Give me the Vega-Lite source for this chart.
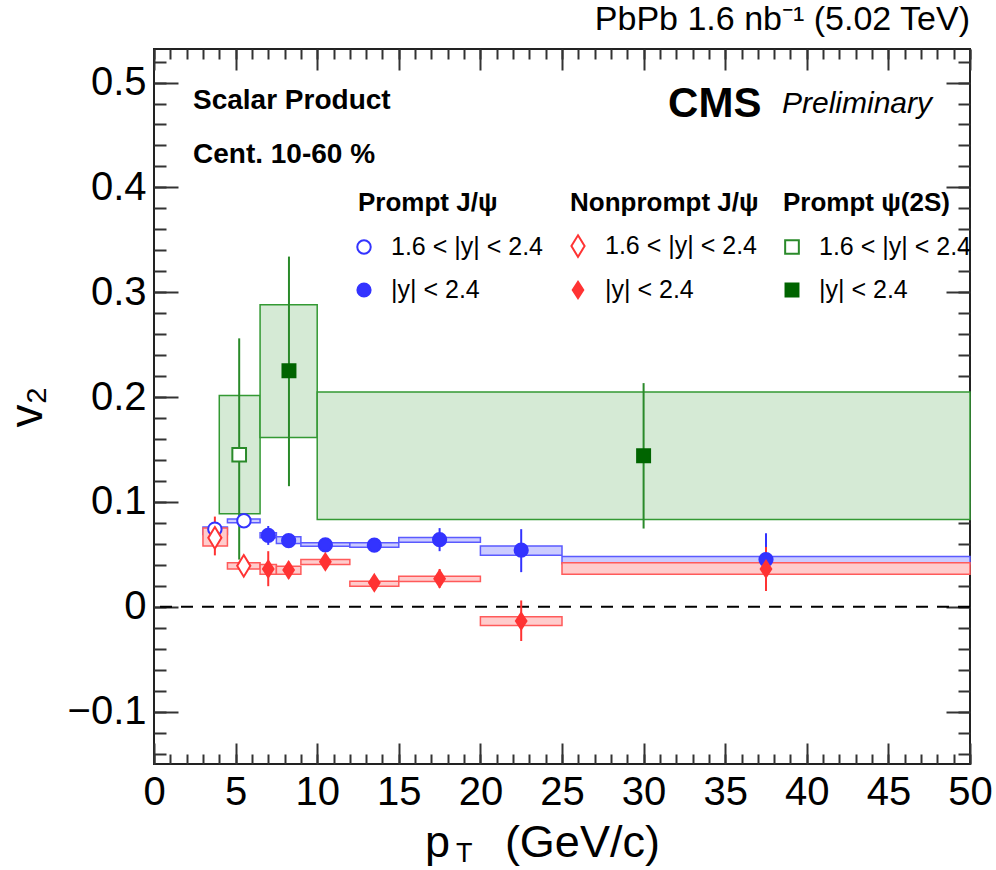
{
  "$schema": "https://vega.github.io/schema/vega-lite/v6.json",
  "width": 816,
  "height": 715,
  "autosize": {"type": "none"},
  "padding": {"left": 154, "top": 49, "right": 26, "bottom": 106},
  "background": "white",
  "title": {"text": "PbPb 1.6 nb⁻¹ (5.02 TeV)", "anchor": "end", "frame": "group", "font": "Liberation Sans", "fontSize": 34, "fontWeight": "normal", "color": "black", "offset": 11},
  "config": {
    "view": {"stroke": "#222", "strokeWidth": 2},
    "axis": {"domain": false, "grid": false, "tickColor": "#333", "tickWidth": 2, "labelFont": "Liberation Sans", "labelFontSize": 40, "labelColor": "black", "zindex": 1, "labelFlush": false, "labelOverlap": false},
    "text": {"font": "Liberation Sans", "color": "black"}
  },
  "datasets": {
    "pts": [
      {"series": "PJ_fwd", "particle": "PJ", "pt": 3.73, "v2": 0.074, "lo": 0.070, "hi": 0.078},
      {"series": "PJ_fwd", "particle": "PJ", "pt": 5.51, "v2": 0.082, "lo": 0.078, "hi": 0.086},
      {"series": "PJ_all", "particle": "PJ", "pt": 7.0, "v2": 0.068, "lo": 0.059, "hi": 0.077},
      {"series": "PJ_all", "particle": "PJ", "pt": 8.25, "v2": 0.063, "lo": 0.058, "hi": 0.068},
      {"series": "PJ_all", "particle": "PJ", "pt": 10.5, "v2": 0.059, "lo": 0.054, "hi": 0.064},
      {"series": "PJ_all", "particle": "PJ", "pt": 13.5, "v2": 0.0587, "lo": 0.054, "hi": 0.063},
      {"series": "PJ_all", "particle": "PJ", "pt": 17.5, "v2": 0.064, "lo": 0.053, "hi": 0.075},
      {"series": "PJ_all", "particle": "PJ", "pt": 22.5, "v2": 0.054, "lo": 0.033, "hi": 0.074},
      {"series": "PJ_all", "particle": "PJ", "pt": 37.5, "v2": 0.045, "lo": 0.020, "hi": 0.070},
      {"series": "NP_fwd", "particle": "NP", "pt": 3.73, "v2": 0.0657, "lo": 0.049, "hi": 0.086},
      {"series": "NP_fwd", "particle": "NP", "pt": 5.5, "v2": 0.039, "lo": 0.033, "hi": 0.045},
      {"series": "NP_all", "particle": "NP", "pt": 7.0, "v2": 0.036, "lo": 0.0196, "hi": 0.053},
      {"series": "NP_all", "particle": "NP", "pt": 8.25, "v2": 0.035, "lo": 0.027, "hi": 0.043},
      {"series": "NP_all", "particle": "NP", "pt": 10.5, "v2": 0.0428, "lo": 0.036, "hi": 0.050},
      {"series": "NP_all", "particle": "NP", "pt": 13.5, "v2": 0.0228, "lo": 0.016, "hi": 0.030},
      {"series": "NP_all", "particle": "NP", "pt": 17.5, "v2": 0.0267, "lo": 0.018, "hi": 0.036},
      {"series": "NP_all", "particle": "NP", "pt": 22.5, "v2": -0.0137, "lo": -0.0327, "hi": 0.006},
      {"series": "NP_all", "particle": "NP", "pt": 37.5, "v2": 0.036, "lo": 0.0149, "hi": 0.057},
      {"series": "P2S_fwd", "particle": "P2S", "pt": 5.22, "v2": 0.145, "lo": 0.045, "hi": 0.256},
      {"series": "P2S_all", "particle": "P2S", "pt": 8.27, "v2": 0.225, "lo": 0.115, "hi": 0.334},
      {"series": "P2S_all", "particle": "P2S", "pt": 30.0, "v2": 0.144, "lo": 0.0746, "hi": 0.2133}
    ],
    "boxes": [
      {"particle": "PJ", "x1": 3, "x2": 4.5, "y1": 0.069, "y2": 0.076},
      {"particle": "PJ", "x1": 4.5, "x2": 6.5, "y1": 0.080, "y2": 0.0838},
      {"particle": "PJ", "x1": 6.5, "x2": 7.5, "y1": 0.0657, "y2": 0.0705},
      {"particle": "PJ", "x1": 7.5, "x2": 9, "y1": 0.0603, "y2": 0.0667},
      {"particle": "PJ", "x1": 9, "x2": 12, "y1": 0.0577, "y2": 0.061},
      {"particle": "PJ", "x1": 12, "x2": 15, "y1": 0.0568, "y2": 0.061},
      {"particle": "PJ", "x1": 15, "x2": 20, "y1": 0.0615, "y2": 0.066},
      {"particle": "PJ", "x1": 20, "x2": 25, "y1": 0.049, "y2": 0.058},
      {"particle": "PJ", "x1": 25, "x2": 50, "y1": 0.041, "y2": 0.048},
      {"particle": "NP", "x1": 3, "x2": 4.5, "y1": 0.058, "y2": 0.075},
      {"particle": "NP", "x1": 4.5, "x2": 6.5, "y1": 0.036, "y2": 0.042},
      {"particle": "NP", "x1": 6.5, "x2": 7.5, "y1": 0.031, "y2": 0.0403},
      {"particle": "NP", "x1": 7.5, "x2": 9, "y1": 0.031, "y2": 0.0387},
      {"particle": "NP", "x1": 9, "x2": 12, "y1": 0.0403, "y2": 0.045},
      {"particle": "NP", "x1": 12, "x2": 15, "y1": 0.0196, "y2": 0.0244},
      {"particle": "NP", "x1": 15, "x2": 20, "y1": 0.024, "y2": 0.029},
      {"particle": "NP", "x1": 20, "x2": 25, "y1": -0.0178, "y2": -0.0095},
      {"particle": "NP", "x1": 25, "x2": 50, "y1": 0.031, "y2": 0.042},
      {"particle": "P2S", "x1": 4, "x2": 6.5, "y1": 0.0886, "y2": 0.2015},
      {"particle": "P2S", "x1": 6.5, "x2": 10, "y1": 0.1615, "y2": 0.288},
      {"particle": "P2S", "x1": 10, "x2": 50, "y1": 0.0831, "y2": 0.2048}
    ]
  },
  "resolve": {
    "scale": {"fill": "independent", "stroke": "independent", "shape": "independent"},
    "axis": {"x": "independent", "y": "independent"}
  },
  "layer": [
    {
      "data": {"name": "boxes"},
      "mark": {"type": "rect", "strokeWidth": 1.5},
      "encoding": {
        "x": {"field": "x1", "type": "quantitative", "scale": {"domain": [0, 50], "nice": false, "zero": false},
          "axis": {"orient": "bottom", "values": [0, 5, 10, 15, 20, 25, 30, 35, 40, 45, 50], "tickSize": -21, "labelPadding": 29, "format": "d", "title": null}},
        "x2": {"field": "x2"},
        "y": {"field": "y1", "type": "quantitative", "scale": {"domain": [-0.15, 0.532], "nice": false, "zero": false},
          "axis": {"orient": "left", "values": [-0.1, 0, 0.1, 0.2, 0.3, 0.4, 0.5], "tickSize": -24, "labelPadding": 32, "format": "~g", "title": "v₂", "titleFont": "Liberation Sans", "titleFontSize": 46, "titleFontWeight": "normal", "titleColor": "black", "titlePadding": 16}},
        "y2": {"field": "y2"},
        "fill": {"field": "particle", "type": "nominal", "scale": {"domain": ["PJ", "NP", "P2S"], "range": ["#ccccff", "#ffcccc", "#d5ead5"]}, "legend": null},
        "stroke": {"field": "particle", "type": "nominal", "scale": {"domain": ["PJ", "NP", "P2S"], "range": ["#5a5aff", "#ff5a5a", "#339933"]}, "legend": null}
      }
    },
    {
      "data": {"values": [{}]},
      "mark": {"type": "rule", "strokeDash": [12, 9], "strokeWidth": 2, "color": "black"},
      "encoding": {"y": {"datum": 0, "type": "quantitative", "axis": null}}
    },
    {
      "data": {"name": "pts"},
      "mark": {"type": "rule", "strokeWidth": 2},
      "encoding": {
        "x": {"field": "pt", "type": "quantitative",
          "axis": {"orient": "bottom", "values": [0,1,2,3,4,5,6,7,8,9,10,11,12,13,14,15,16,17,18,19,20,21,22,23,24,25,26,27,28,29,30,31,32,33,34,35,36,37,38,39,40,41,42,43,44,45,46,47,48,49,50], "tickSize": -10, "labels": false, "title": null}},
        "y": {"field": "lo", "type": "quantitative",
          "axis": {"orient": "left", "values": [-0.14,-0.12,-0.1,-0.08,-0.06,-0.04,-0.02,0,0.02,0.04,0.06,0.08,0.1,0.12,0.14,0.16,0.18,0.2,0.22,0.24,0.26,0.28,0.3,0.32,0.34,0.36,0.38,0.4,0.42,0.44,0.46,0.48,0.5,0.52], "tickSize": -12, "labels": false, "title": null}},
        "y2": {"field": "hi"},
        "stroke": {"field": "particle", "type": "nominal", "scale": {"domain": ["PJ", "NP", "P2S"], "range": ["#3333ff", "#ff3333", "#2a8a2a"]}, "legend": null}
      }
    },
    {
      "data": {"name": "pts"},
      "mark": {"type": "point", "filled": true, "opacity": 1, "strokeWidth": 2, "size": 576},
      "encoding": {
        "x": {"field": "pt", "type": "quantitative",
          "axis": {"orient": "top", "values": [0, 5, 10, 15, 20, 25, 30, 35, 40, 45, 50], "tickSize": -21, "labels": false, "title": null}},
        "y": {"field": "v2", "type": "quantitative",
          "axis": {"orient": "right", "values": [-0.1, 0, 0.1, 0.2, 0.3, 0.4, 0.5], "tickSize": -24, "labels": false, "title": null}},
        "shape": {"field": "series", "type": "nominal",
          "scale": {"domain": ["PJ_fwd", "PJ_all", "NP_fwd", "NP_all", "P2S_fwd", "P2S_all"],
            "range": ["M0.56,0A0.56,0.56,0,1,1,-0.56,0A0.56,0.56,0,1,1,0.56,0Z", "M0.55,0A0.55,0.55,0,1,1,-0.55,0A0.55,0.55,0,1,1,0.55,0Z", "M0,-0.9L0.55,0L0,0.9L-0.55,0Z", "M0,-0.68L0.44,0L0,0.68L-0.44,0Z", "M-0.57,-0.57L0.57,-0.57L0.57,0.57L-0.57,0.57Z", "M-0.54,-0.54L0.54,-0.54L0.54,0.54L-0.54,0.54Z"]},
          "legend": {"orient": "none", "legendX": 197, "legendY": 184, "columns": 3, "title": null, "padding": 0, "columnPadding": 22, "rowPadding": 16, "labelOffset": 14, "labelFont": "Liberation Sans", "labelFontSize": 25, "labelColor": "black", "symbolSize": 576, "symbolStrokeWidth": 2,
            "labelExpr": "indexof(datum.label, 'fwd') >= 0 ? '1.6 < |y| < 2.4' : '|y| < 2.4'"}},
        "fill": {"field": "series", "type": "nominal",
          "scale": {"domain": ["PJ_fwd", "PJ_all", "NP_fwd", "NP_all", "P2S_fwd", "P2S_all"], "range": ["white", "#3333ff", "white", "#ff3333", "white", "#006400"]},
          "legend": {"orient": "none", "legendX": 197, "legendY": 184, "columns": 3, "title": null, "padding": 0, "columnPadding": 22, "rowPadding": 16, "labelOffset": 14, "labelFont": "Liberation Sans", "labelFontSize": 25, "labelColor": "black", "symbolSize": 576, "symbolStrokeWidth": 2,
            "labelExpr": "indexof(datum.label, 'fwd') >= 0 ? '1.6 < |y| < 2.4' : '|y| < 2.4'"}},
        "stroke": {"field": "series", "type": "nominal",
          "scale": {"domain": ["PJ_fwd", "PJ_all", "NP_fwd", "NP_all", "P2S_fwd", "P2S_all"], "range": ["#3333ff", "#3333ff", "#ff3333", "#ff3333", "#2a8a2a", "#006400"]},
          "legend": {"orient": "none", "legendX": 197, "legendY": 184, "columns": 3, "title": null, "padding": 0, "columnPadding": 22, "rowPadding": 16, "labelOffset": 14, "labelFont": "Liberation Sans", "labelFontSize": 25, "labelColor": "black", "symbolSize": 576, "symbolStrokeWidth": 2,
            "labelExpr": "indexof(datum.label, 'fwd') >= 0 ? '1.6 < |y| < 2.4' : '|y| < 2.4'"}}
      }
    },
    {
      "data": {"values": [
        {"t": "Scalar Product", "x": 2.39, "y": 0.482},
        {"t": "Cent. 10-60 %", "x": 2.39, "y": 0.431}
      ]},
      "mark": {"type": "text", "fontWeight": "bold", "fontSize": 28, "align": "left", "baseline": "middle"},
      "encoding": {
        "x": {"field": "x", "type": "quantitative",
          "axis": {"orient": "top", "values": [0,1,2,3,4,5,6,7,8,9,10,11,12,13,14,15,16,17,18,19,20,21,22,23,24,25,26,27,28,29,30,31,32,33,34,35,36,37,38,39,40,41,42,43,44,45,46,47,48,49,50], "tickSize": -10, "labels": false, "title": null}},
        "y": {"field": "y", "type": "quantitative",
          "axis": {"orient": "right", "values": [-0.14,-0.12,-0.1,-0.08,-0.06,-0.04,-0.02,0,0.02,0.04,0.06,0.08,0.1,0.12,0.14,0.16,0.18,0.2,0.22,0.24,0.26,0.28,0.3,0.32,0.34,0.36,0.38,0.4,0.42,0.44,0.46,0.48,0.5,0.52], "tickSize": -12, "labels": false, "title": null}},
        "text": {"field": "t"}
      }
    },
    {
      "data": {"values": [
        {"t": "Prompt J/ψ", "x": 12.5, "y": 0.385},
        {"t": "Nonprompt J/ψ", "x": 25.49, "y": 0.385},
        {"t": "Prompt  ψ(2S)", "x": 38.54, "y": 0.385}
      ]},
      "mark": {"type": "text", "fontWeight": "bold", "fontSize": 26, "align": "left", "baseline": "middle"},
      "encoding": {
        "x": {"field": "x", "type": "quantitative", "axis": null},
        "y": {"field": "y", "type": "quantitative", "axis": null},
        "text": {"field": "t"}
      }
    },
    {
      "data": {"values": [{"t": "CMS", "x": 31.5, "y": 0.48}]},
      "mark": {"type": "text", "fontWeight": "bold", "fontSize": 42, "align": "left", "baseline": "middle"},
      "encoding": {
        "x": {"field": "x", "type": "quantitative", "axis": null},
        "y": {"field": "y", "type": "quantitative", "axis": null},
        "text": {"field": "t"}
      }
    },
    {
      "data": {"values": [{"t": "Preliminary", "x": 38.48, "y": 0.48}]},
      "mark": {"type": "text", "fontStyle": "italic", "fontSize": 30, "align": "left", "baseline": "middle"},
      "encoding": {
        "x": {"field": "x", "type": "quantitative", "axis": null},
        "y": {"field": "y", "type": "quantitative", "axis": null},
        "text": {"field": "t"}
      }
    },
    {
      "data": {"values": [{"t": "p", "x": 16.6, "y": -0.2388}, {"t": "(GeV/c)", "x": 21.5, "y": -0.2388}]},
      "mark": {"type": "text", "fontSize": 45, "align": "left", "baseline": "alphabetic"},
      "encoding": {
        "x": {"field": "x", "type": "quantitative", "axis": null},
        "y": {"field": "y", "type": "quantitative", "axis": null},
        "text": {"field": "t"}
      }
    },
    {
      "data": {"values": [{"t": "T", "x": 18.5, "y": -0.2432}]},
      "mark": {"type": "text", "fontSize": 27, "align": "left", "baseline": "alphabetic"},
      "encoding": {
        "x": {"field": "x", "type": "quantitative", "axis": null},
        "y": {"field": "y", "type": "quantitative", "axis": null},
        "text": {"field": "t"}
      }
    }
  ]
}
